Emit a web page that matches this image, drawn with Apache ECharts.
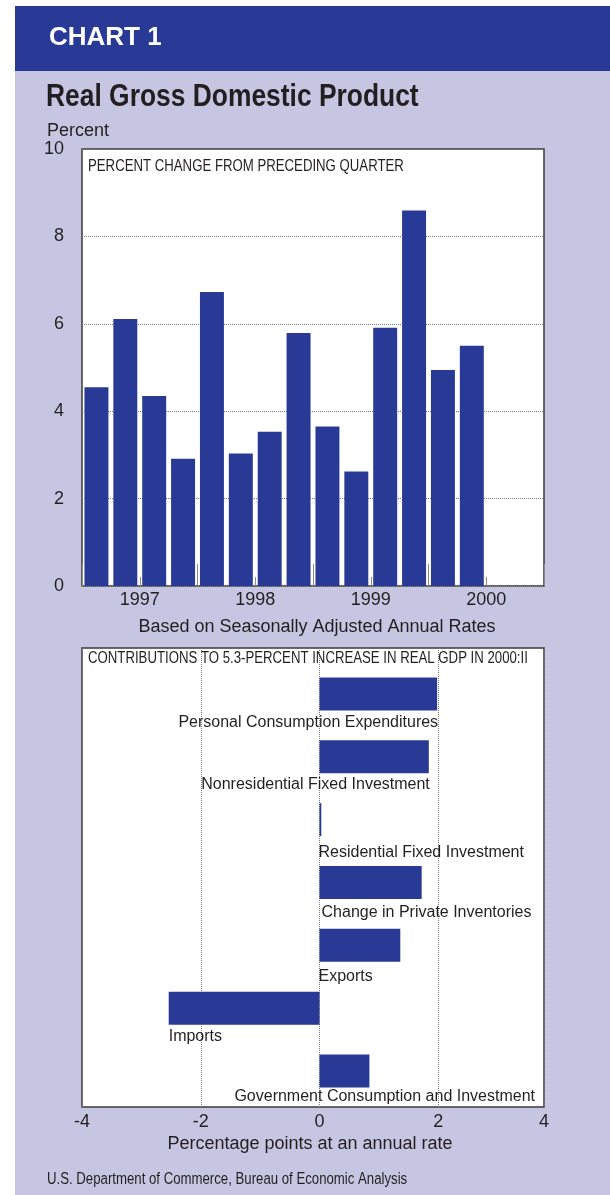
<!DOCTYPE html>
<html>
<head>
<meta charset="utf-8">
<script src="https://cdn.jsdelivr.net/npm/echarts@6/dist/echarts.min.js"></script>
<style>
html,body{margin:0;padding:0;background:#ffffff;}
#c{width:610px;height:1195px;}
</style>
</head>
<body>
<div id="c"></div>
<script>
// ---------- data ----------
const quarters = ['1997 I','1997 II','1997 III','1997 IV','1998 I','1998 II','1998 III','1998 IV',
                  '1999 I','1999 II','1999 III','1999 IV','2000 I','2000 II','2000 III','2000 IV'];
const years = ['1997','1998','1999','2000'];
const gdpGrowth = [4.55, 6.11, 4.35, 2.91, 6.73, 3.03, 3.53, 5.79, 3.65, 2.62, 5.91, 8.59, 4.94, 5.50];
const components = ['Personal Consumption Expenditures','Nonresidential Fixed Investment',
  'Residential Fixed Investment','Change in Private Inventories','Exports','Imports',
  'Government Consumption and Investment'];
const contributions = [1.98, 1.84, 0.03, 1.72, 1.36, -2.54, 0.84];
const xTickLabels = ['-4','-2','0','2','4'];

// ---------- styles ----------
const BLUE = '#283a96';
const LAV = '#c6c6e2';
const INK = '#231f20';
const REG = "'Liberation Sans', Arial, Helvetica, sans-serif";
const NARROW = 0.825;   // horizontal squeeze to imitate a condensed face
const labelPlacement = [
  {anchor:'end',  align:'right', dx:1,  dy:12},
  {anchor:'end',  align:'right', dx:1,  dy:11},
  {anchor:'zero', align:'left',  dx:-1, dy:16},
  {anchor:'zero', align:'left',  dx:2,  dy:14},
  {anchor:'zero', align:'left',  dx:-1, dy:15},
  {anchor:'end',  align:'left',  dx:0,  dy:12},
  {anchor:'edge', align:'right', dx:-9, dy:9}
];

const chart = echarts.init(document.getElementById('c'), null, {renderer:'canvas'});

const hidden = {show:false};
const gridBox = {show:true, backgroundColor:'#ffffff', borderColor:'#3a3a3a', borderWidth:1.5, outerBoundsMode:'none', containLabel:false};
const gridOverlay = {show:false, outerBoundsMode:'none', containLabel:false};

function narrowText(x, y, text, font, extra) {
  return Object.assign({type:'text', x:x, y:y, scaleX:NARROW, scaleY:1,
    style:{text:text, font:font, fill:INK, verticalAlign:'middle'}}, extra || {});
}

const option = {
  animation:false,
  backgroundColor:'#ffffff',
  graphic:[
    {type:'rect', z:-10, shape:{x:15, y:71, width:595, height:1124}, style:{fill:LAV}},
    {type:'rect', z:-10, shape:{x:15, y:6, width:595, height:65}, style:{fill:BLUE}},
    {type:'text', x:49, y:38, style:{text:'CHART 1', font:'bold 26px '+REG, fill:'#ffffff', verticalAlign:'middle'}},
    narrowText(46, 97, 'Real Gross Domestic Product', 'bold 32px '+REG),
    {type:'text', x:47, y:131, style:{text:'Percent', font:'18px '+REG, fill:INK, verticalAlign:'middle'}},
    narrowText(88, 167, 'PERCENT CHANGE FROM PRECEDING QUARTER', '16px '+REG, {z:10}),
    {type:'text', x:317, y:627, style:{text:'Based on Seasonally Adjusted Annual Rates', font:'18px '+REG, fill:INK, align:'center', verticalAlign:'middle'}},
    narrowText(88, 659, 'CONTRIBUTIONS TO 5.3-PERCENT INCREASE IN REAL GDP IN 2000:II', '16px '+REG, {z:10}),
    {type:'text', x:310, y:1144, style:{text:'Percentage points at an annual rate', font:'18px '+REG, fill:INK, align:'center', verticalAlign:'middle'}},
    narrowText(47, 1180, 'U.S. Department of Commerce, Bureau of Economic Analysis', '16px '+REG)
  ],
  grid:[
    Object.assign({left:82, top:149, width:462, height:437}, gridBox),
    Object.assign({left:82, top:149, width:462, height:437}, gridOverlay),
    Object.assign({left:82, top:648, width:462, height:459}, gridBox),
    Object.assign({left:82, top:662.5, width:462, height:440}, gridOverlay)
  ],
  xAxis:[
    {type:'category', gridIndex:0, data:quarters, boundaryGap:true,
     axisLine:hidden, axisLabel:hidden,
     axisTick:{show:true, inside:true, length:9, lineStyle:{color:'#8a8a8a', width:1}}},
    {type:'category', gridIndex:1, data:years, boundaryGap:true,
     axisLine:hidden,
     axisLabel:{show:true, margin:5, fontSize:18, fontFamily:REG, color:INK, interval:0},
     axisTick:{show:true, inside:true, length:22, lineStyle:{color:'#8a8a8a', width:1}}},
    {type:'value', gridIndex:2, min:-4, max:3.78, interval:2,
     axisLine:hidden, axisTick:hidden,
     axisLabel:{show:true, margin:6, fontSize:18, fontFamily:REG, color:INK,
       showMaxLabel:true, showMinLabel:true,
       formatter:v => xTickLabels[Math.round((v + 4) / 2)]},
     splitLine:{show:true, lineStyle:{color:'#7a7a7a', type:'dotted', width:1}}},
    {type:'value', gridIndex:3, min:-4, max:3.78, show:false}
  ],
  yAxis:[
    {type:'value', gridIndex:0, min:0, max:10, interval:2,
     axisLine:hidden, axisTick:hidden,
     axisLabel:{show:true, margin:18, fontSize:18, fontFamily:REG, color:INK, padding:[6,0,0,0]},
     splitLine:{show:true, lineStyle:{color:'#7a7a7a', type:'dotted', width:1}}},
    {type:'value', gridIndex:1, min:0, max:10, show:false},
    {type:'value', gridIndex:2, min:0, max:1, show:false},
    {type:'category', gridIndex:3, data:components, inverse:true, show:false}
  ],
  series:[
    {type:'bar', xAxisIndex:0, yAxisIndex:0, data:gdpGrowth, barCategoryGap:'17%',
     itemStyle:{color:BLUE}, z:3},
    {type:'bar', xAxisIndex:3, yAxisIndex:3, data:contributions, barWidth:33,
     itemStyle:{color:BLUE}, z:3},
    {type:'custom', xAxisIndex:3, yAxisIndex:3,
     data:contributions.map((v, i) => [v, i]),
     encode:{x:0, y:1}, z:5, silent:true,
     renderItem:(params, api) => {
       const i = params.dataIndex;
       const p = labelPlacement[i];
       const v = api.value(0);
       const cy = api.coord([0, i])[1];
       let x;
       if (p.anchor === 'end') x = api.coord([v, i])[0];
       else if (p.anchor === 'zero') x = api.coord([0, i])[0];
       else x = params.coordSys.x + params.coordSys.width;
       return {
         type:'text', x:x + p.dx, y:cy + 16.5 + p.dy,
         style:{text:components[i], align:p.align, verticalAlign:'middle',
                font:'16px ' + REG, fill:INK}
       };
     }}
  ]
};
chart.setOption(option);
</script>
</body>
</html>
